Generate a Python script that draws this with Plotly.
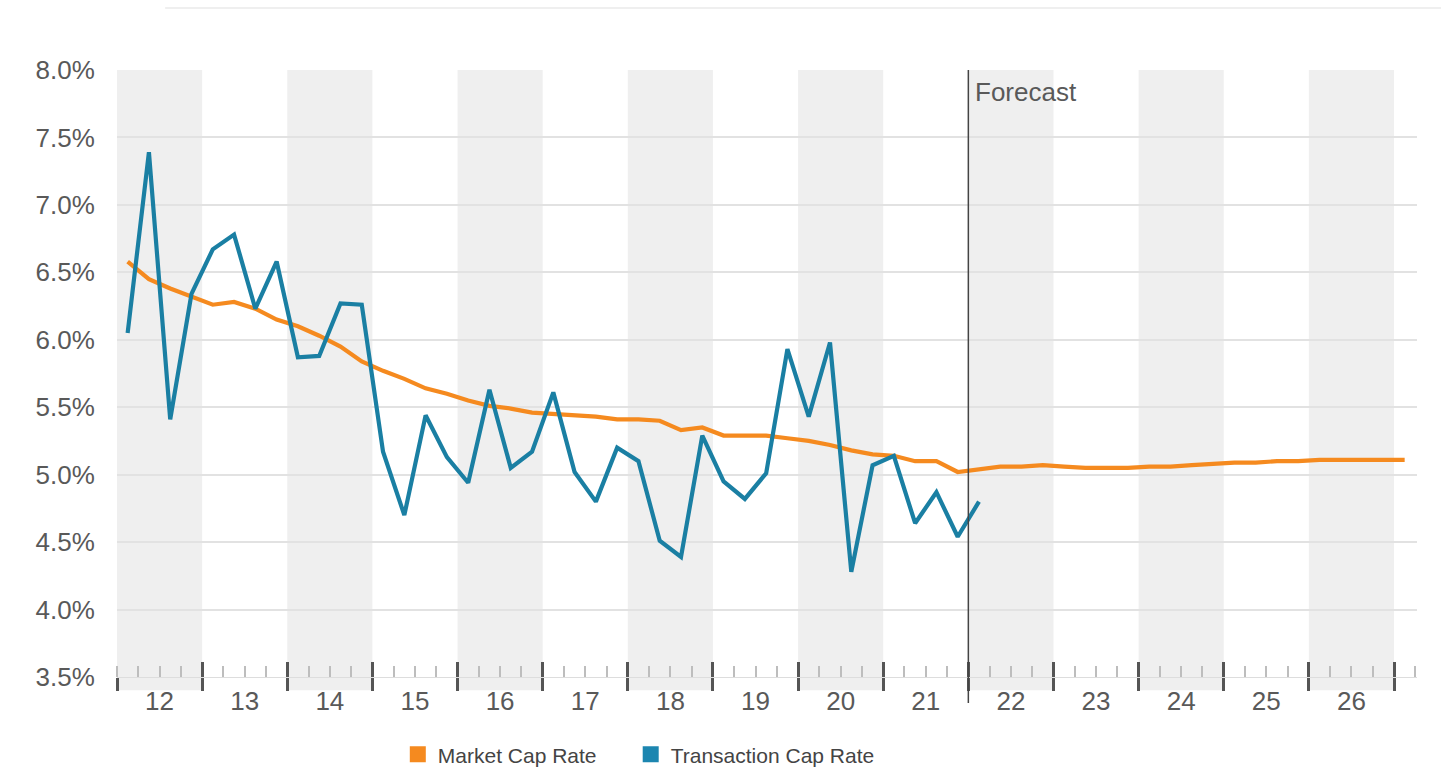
import plotly.graph_objects as go

# ---- data ----
years = list(range(2012, 2027))          # 2012 .. 2026 (labelled 12 .. 26)
year_labels = [str(y)[2:] for y in years]
forecast_start = 2022
series_names = ["Market Cap Rate", "Transaction Cap Rate"]

# quarterly market cap rate, 2012Q1 .. 2027Q1 (%)
market_cap_rate = [
    6.58, 6.45, 6.38, 6.32,
    6.26, 6.28, 6.23, 6.15,
    6.10, 6.03, 5.95, 5.84,
    5.77, 5.71, 5.64, 5.60,
    5.55, 5.51, 5.49, 5.46,
    5.45, 5.44, 5.43, 5.41,
    5.41, 5.40, 5.33, 5.35,
    5.29, 5.29, 5.29, 5.27,
    5.25, 5.22, 5.18, 5.15,
    5.14, 5.10, 5.10, 5.02,
    5.04, 5.06, 5.06, 5.07,
    5.06, 5.05, 5.05, 5.05,
    5.06, 5.06, 5.07, 5.08,
    5.09, 5.09, 5.10, 5.10,
    5.11, 5.11, 5.11, 5.11,
    5.11,
]

# quarterly transaction cap rate, 2012Q1 .. 2022Q1 (%)
transaction_cap_rate = [
    6.05, 7.39, 5.41, 6.34,
    6.67, 6.78, 6.23, 6.58,
    5.87, 5.88, 6.27, 6.26,
    5.17, 4.70, 5.44, 5.13,
    4.94, 5.63, 5.05, 5.17,
    5.61, 5.02, 4.80, 5.20,
    5.10, 4.51, 4.39, 5.29,
    4.95, 4.82, 5.01, 5.93,
    5.43, 5.98, 4.28, 5.07,
    5.14, 4.64, 4.87, 4.54,
    4.80,
]

# quarter centres as decimal years
def quarter_x(n):
    return [2012 + (i + 0.5) / 4 for i in range(n)]

x_market = quarter_x(len(market_cap_rate))
x_trans = quarter_x(len(transaction_cap_rate))

ORANGE = "#F58A1F"
BLUE = "#1A7FA3"
TEXT = "#595959"
FONT = "Liberation Sans, Arial, sans-serif"
X_END = 2027.27
PAD = "\u00a0" * 5

fig = go.Figure()

fig.add_trace(go.Scatter(x=x_market, y=market_cap_rate, mode="lines",
                         line=dict(color=ORANGE, width=4.2), showlegend=False,
                         name=series_names[0]))
fig.add_trace(go.Scatter(x=x_trans, y=transaction_cap_rate, mode="lines",
                         line=dict(color=BLUE, width=4.2), showlegend=False,
                         name=series_names[1]))
# legend entries with square swatches
fig.add_trace(go.Scatter(x=[None], y=[None], mode="markers",
                         marker=dict(symbol="square", size=16, color=ORANGE),
                         name=series_names[0] + PAD))
fig.add_trace(go.Scatter(x=[None], y=[None], mode="markers",
                         marker=dict(symbol="square", size=16, color="#1C86B0"),
                         name=series_names[1]))
# empty traces so the overlaid tick axes get drawn
fig.add_trace(go.Scatter(x=[None], y=[None], xaxis="x2", showlegend=False,
                         hoverinfo="skip"))
fig.add_trace(go.Scatter(x=[None], y=[None], xaxis="x3", showlegend=False,
                         hoverinfo="skip"))

# alternating year bands
shapes = []
for i, y in enumerate(years):
    if i % 2 == 0:
        shapes.append(dict(type="rect", xref="x", yref="paper", x0=y, x1=y + 1,
                           y0=-0.022, y1=1, fillcolor="#EFEFEF", line_width=0,
                           layer="below"))
# forecast divider
shapes.append(dict(type="line", xref="x", yref="paper", x0=forecast_start,
                   x1=forecast_start, y0=-0.043, y1=1,
                   line=dict(color="#444444", width=1.5)))
# faint card border at top
shapes.append(dict(type="line", xref="paper", yref="paper", x0=0.037, x1=1.02,
                   y0=1.102, y1=1.102, line=dict(color="#EAEAEA", width=1.5)))

fig.update_layout(
    width=1441, height=769,
    margin=dict(l=117, r=24, t=70, b=92, autoexpand=False),
    paper_bgcolor="white", plot_bgcolor="rgba(0,0,0,0)",
    font=dict(family=FONT, size=26, color=TEXT),
    shapes=shapes,
    showlegend=True,
    legend=dict(orientation="h", x=0.216, xanchor="left", y=-0.128,
                yanchor="middle", font=dict(size=21, color="#444444"),
                itemwidth=30, bgcolor="rgba(0,0,0,0)"),
    annotations=[dict(x=forecast_start, y=0.964, xref="x", yref="paper",
                      text="Forecast", showarrow=False, xanchor="left",
                      yanchor="middle", xshift=5,
                      font=dict(size=26, color=TEXT, family=FONT))],
    xaxis=dict(range=[2012, X_END], tickmode="array",
               tickvals=[y + 0.5 for y in years], ticktext=year_labels,
               ticks="outside", ticklen=1, tickcolor="rgba(0,0,0,0)",
               showgrid=False, zeroline=False, showline=True,
               linecolor="#DDDDDD", linewidth=1,
               tickfont=dict(size=26, color=TEXT),
               minor=dict(tickmode="linear", tick0=2012, dtick=0.25,
                          ticks="inside", ticklen=11, tickwidth=1.5,
                          tickcolor="#BDBDBD", showgrid=False)),
    xaxis2=dict(overlaying="x", anchor="y", side="bottom", range=[2012, X_END],
                tickmode="array", tickvals=years + [2027], ticks="outside",
                ticklen=13, tickwidth=2.5, tickcolor="#555555",
                showticklabels=False, showgrid=False, zeroline=False,
                showline=False),
    xaxis3=dict(overlaying="x", anchor="y", side="bottom", range=[2012, X_END],
                tickmode="array", tickvals=years + [2027], ticks="inside",
                ticklen=15, tickwidth=2.5, tickcolor="#555555",
                showticklabels=False, showgrid=False, zeroline=False,
                showline=False),
    yaxis=dict(range=[3.5, 8.0], tickmode="linear", tick0=3.5, dtick=0.5,
               tickformat=".1f", ticksuffix="%", showgrid=True,
               gridcolor="#E2E2E2", gridwidth=1.5, zeroline=False,
               showline=False, ticks="outside", ticklen=16,
               tickcolor="rgba(0,0,0,0)", tickfont=dict(size=26, color=TEXT)),
)

fig.write_html("out.html", config={"displayModeBar": False},
               post_script="document.body.style.margin='0';"
                           "document.body.style.overflow='hidden';")
